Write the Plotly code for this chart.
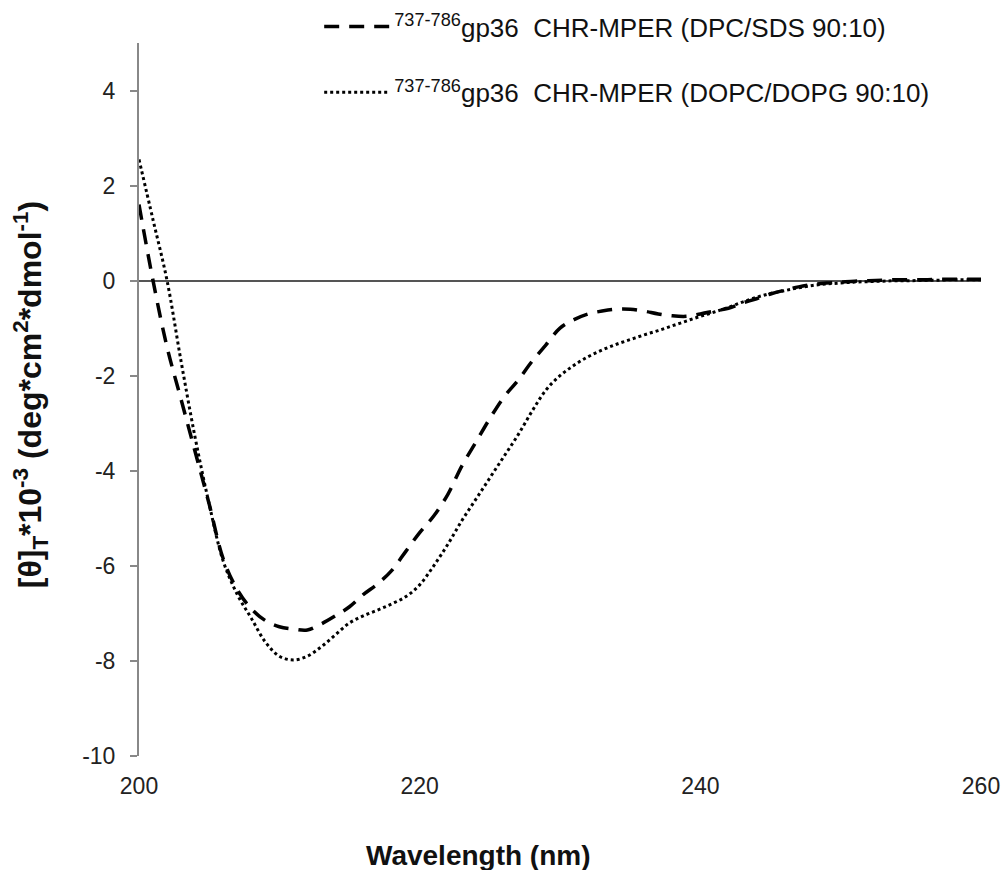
import plotly.graph_objects as go

# CD spectra
wavelength = list(range(200, 261))

dpc_sds = [1.6, 0.0, -1.4, -2.5, -3.6, -4.7, -5.85, -6.5, -6.9, -7.15,
           -7.28, -7.33, -7.35, -7.22, -7.05, -6.86, -6.6, -6.38, -6.1, -5.7,
           -5.3, -4.95, -4.5, -3.9, -3.4, -2.9, -2.45, -2.1, -1.7, -1.35,
           -1.0, -0.82, -0.7, -0.64, -0.6, -0.6, -0.64, -0.7, -0.74, -0.75,
           -0.7, -0.64, -0.58, -0.47, -0.38, -0.28, -0.2, -0.13, -0.08, -0.05,
           -0.03, -0.01, 0.0, 0.01, 0.02, 0.02, 0.02, 0.03, 0.03, 0.03, 0.03]

dopc_dopg = [2.55, 1.28, 0.0, -1.7, -3.3, -4.7, -5.9, -6.6, -7.1, -7.6,
             -7.9, -7.98, -7.9, -7.7, -7.45, -7.2, -7.05, -6.93, -6.8, -6.65,
             -6.4, -6.0, -5.55, -5.05, -4.6, -4.15, -3.7, -3.25, -2.75, -2.3,
             -2.0, -1.78, -1.6, -1.46, -1.34, -1.24, -1.14, -1.05, -0.95, -0.85,
             -0.75, -0.66, -0.56, -0.45, -0.35, -0.27, -0.21, -0.15, -0.1, -0.07,
             -0.05, -0.03, -0.02, -0.01, 0.0, 0.0, 0.01, 0.01, 0.02, 0.02, 0.02]

series_names = ["<sup>737-786</sup>gp36\u00a0 CHR-MPER (DPC/SDS 90:10)",
                "<sup>737-786</sup>gp36\u00a0 CHR-MPER (DOPC/DOPG 90:10)"]

y_ticks = [-10, -8, -6, -4, -2, 0, 2, 4]
y_labels = ["-10", "-8", "-6", "-4", "-2", "0", "2", "4"]
x_ticks = [200, 220, 240, 260]

font = "Liberation Sans, Arial, sans-serif"

fig = go.Figure()
fig.add_trace(go.Scatter(x=wavelength, y=dpc_sds, mode="lines", name=series_names[0],
                         legendgroup="a", line=dict(color="black", width=3.5, dash="15px,10px", shape="spline")))
fig.add_trace(go.Scatter(x=wavelength, y=dopc_dopg, mode="lines", name=series_names[1],
                         legendgroup="b", line=dict(color="black", width=3, dash="3px,3px", shape="spline")))

fig.update_layout(
    width=1006, height=870,
    margin=dict(l=139, r=25, t=43, b=114, autoexpand=False),
    plot_bgcolor="white", paper_bgcolor="white",
    font=dict(family=font, size=23, color="#222"),
    showlegend=True,
    legend=dict(x=0.214, y=1.056, xanchor="left", yanchor="top", tracegroupgap=29,
                itemwidth=65, font=dict(size=26, color="#111"), bgcolor="rgba(0,0,0,0)"),
    xaxis=dict(range=[200, 260], tickvals=x_ticks, showgrid=False, zeroline=False,
               showline=False, ticks="", ticklabelstandoff=14, tickfont=dict(size=23)),
    yaxis=dict(range=[-10, 5], tickvals=y_ticks, ticktext=y_labels, showgrid=False,
               zeroline=True, zerolinecolor="#555", zerolinewidth=2, showline=True,
               linecolor="#888", linewidth=2, ticks="outside", ticklen=7, tickcolor="#888",
               tickwidth=1.5, ticklabelstandoff=10, tickfont=dict(size=23)),
)

fig.add_annotation(text="<b>Wavelength (nm)</b>", xref="paper", yref="paper",
                   x=(478 - 139) / 842, y=-0.139, xanchor="center", yanchor="middle",
                   showarrow=False, font=dict(size=28, color="#111"))
fig.add_annotation(text="<b>[θ]<sub>T</sub>*10<sup>-3</sup> (deg*cm<sup>2</sup>*dmol<sup>-1</sup>)</b>",
                   xref="paper", yref="paper", x=(30 - 139) / 842, y=0.506,
                   xanchor="center", yanchor="middle", textangle=-90,
                   showarrow=False, font=dict(size=32, color="#111"))

# drop the page's default body margin so the figure fills the window
fig.write_html("out.html", config={"displayModeBar": False},
               post_script="document.body.style.margin='0';")
